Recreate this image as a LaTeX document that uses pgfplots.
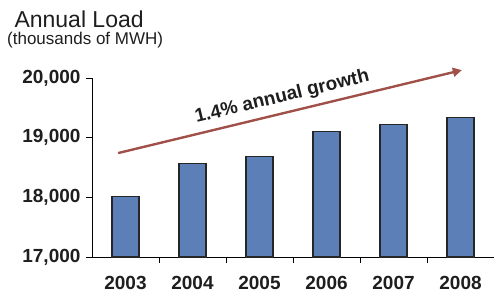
\documentclass[border=0pt]{standalone}
\usepackage{pgfplots}
\pgfplotsset{compat=1.18}
\usepackage{fontspec}
\setmainfont{Liberation Sans}
\usetikzlibrary{arrows.meta}
\definecolor{barblue}{RGB}{92,127,184}
\definecolor{arrowred}{RGB}{160,80,72}
\definecolor{txt}{RGB}{30,30,30}
\begin{document}
\begin{tikzpicture}[x=1bp,y=1bp]
\useasboundingbox (0,0) rectangle (494,300);
\begin{axis}[
  at={(92bp,43bp)}, anchor=south west,
  width=402bp, height=179bp, scale only axis,
  xmin=-0.5, xmax=5.5, ymin=17000, ymax=20000,
  axis x line=bottom, axis y line=left,
  axis line style={-, black, line width=0.9pt},
  clip=false,
  xtick={0,1,2,3,4,5},
  xticklabels={2003,2004,2005,2006,2007,2008},
  major x tick style={draw=none},
  minor xtick={0.5,1.5,2.5,3.5,4.5},
  minor x tick style={black, line width=0.9pt},
  minor tick length=6bp,
  ytick={17000,18000,19000,20000},
  scaled y ticks=false,
  major tick length=6bp,
  tick align=outside,
  y tick style={black, line width=0.9pt},
  /pgf/number format/1000 sep={,},
  /pgf/number format/fixed,
  /pgf/number format/precision=0,
  /pgf/number format/assume math mode=true,
  ticklabel style={font=\fontsize{19bp}{22bp}\selectfont\bfseries, text=txt},
  xticklabel style={yshift=-10bp},
  yticklabel style={xshift=-2bp},
]
\addplot[ybar, bar width=27bp, fill=barblue, draw=black!85, line width=1.1pt]
  coordinates {(0,18020) (1,18560) (2,18690) (3,19100) (4,19225) (5,19340)};
\draw[arrowred, line width=2.4pt, -{Triangle[length=9bp,width=9bp]}]
  (axis cs:-0.11,18742) -- (axis cs:5.02,20132);
\node[rotate=13.6, inner sep=0pt, font=\fontsize{19bp}{22bp}\selectfont\bfseries, text=txt]
  at (axis cs:2.34,19680) {1.4\% annual growth};
\end{axis}
\node[anchor=base west, font=\fontsize{23bp}{26bp}\selectfont, text=txt] at (11,273) {Annual Load};
\node[anchor=base west, font=\fontsize{17bp}{19bp}\selectfont, text=txt, inner sep=0pt] at (7,256) {(thousands of MWH)};
\end{tikzpicture}
\end{document}
